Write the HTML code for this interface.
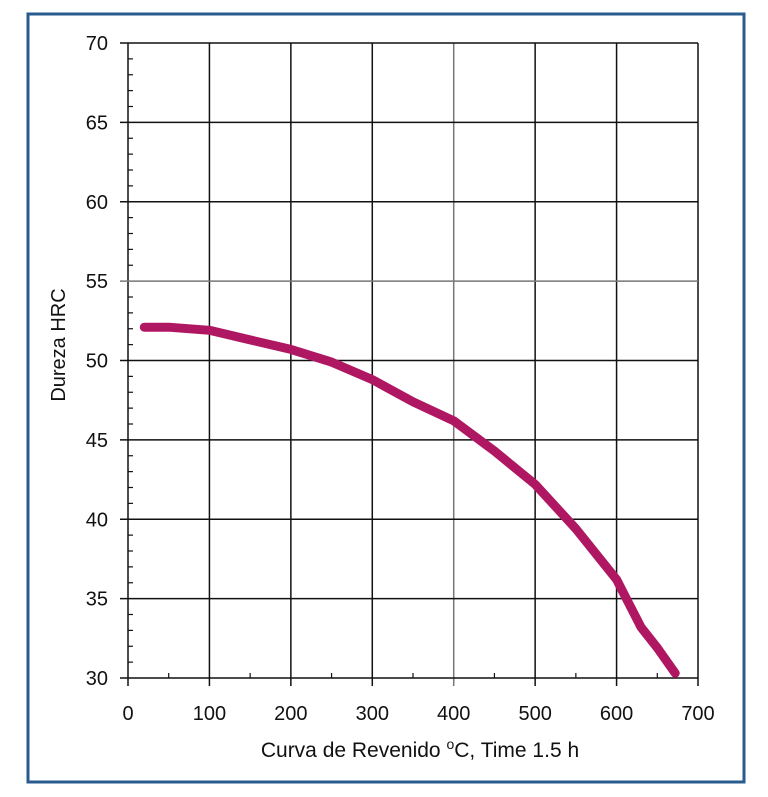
<!DOCTYPE html>
<html><head><meta charset="utf-8"><style>
body{margin:0;background:#fff;}
svg{display:block;font-family:"Liberation Sans",sans-serif;}
</style></head><body>
<svg id="chart" width="768" height="797">
<rect x="28" y="14" width="716" height="768" fill="#fff" stroke="#2a5b8e" stroke-width="3"/>
<g id="grid"></g><g id="ticks"></g><g id="labels"></g>
<path id="curve" fill="none" stroke="#b01762" stroke-width="9" stroke-linecap="round" stroke-linejoin="round"/>
<text x="420" y="757" text-anchor="middle" font-size="21" fill="#111">Curva de Revenido <tspan dy="-8" font-size="14">o</tspan><tspan dy="8">C, Time 1.5 h</tspan></text>
<text transform="translate(65,345) rotate(-90)" text-anchor="middle" font-size="20" fill="#111">Dureza HRC</text>
</svg>
<script>
const temps=[20,50,100,150,200,250,300,350,400,450,500,550,600,630,650,672];
const hrc=[52.1,52.1,51.9,51.3,50.7,49.9,48.8,47.4,46.2,44.3,42.2,39.4,36.2,33.2,31.9,30.3];
const xTicks=[0,100,200,300,400,500,600,700];
const yTicks=[30,35,40,45,50,55,60,65,70];
const L=128,R=698,T=43,B=678;
const sx=v=>L+(v-0)/700*(R-L), sy=v=>B-(v-30)/40*(B-T);
const NS="http://www.w3.org/2000/svg";
function mk(tag,attrs,parent){const e=document.createElementNS(NS,tag);for(const k in attrs)e.setAttribute(k,attrs[k]);document.getElementById(parent).appendChild(e);return e;}
xTicks.forEach(v=>{const l=mk('line',{x1:sx(v),x2:sx(v),y1:T,y2:B+8,stroke:v==400?'#777':'#111','stroke-width':1.5},'grid');


const t=mk('text',{x:sx(v),y:720,'text-anchor':'middle','font-size':20,fill:'#111'},'labels');t.textContent=v;

});
yTicks.forEach(v=>{const l=mk('line',{x1:L-8,x2:R,y1:sy(v),y2:sy(v),stroke:v==55?'#777':'#111','stroke-width':1.5},'grid');


const t=mk('text',{x:108,y:sy(v)+7,'text-anchor':'end','font-size':20,fill:'#111'},'labels');t.textContent=v;

});
for(let v=50;v<700;v+=100){const l=mk('line',{x1:sx(v),x2:sx(v),y1:B,y2:B-5,stroke:'#111','stroke-width':1.2},'ticks');

}
for(let v=31;v<70;v++){if(v%5==0)continue;const l=mk('line',{x1:L,x2:L+5,y1:sy(v),y2:sy(v),stroke:'#111','stroke-width':1.2},'ticks');

}
document.getElementById('curve').setAttribute('d',temps.map((t,i)=>(i?'L':'M')+sx(t).toFixed(1)+' '+sy(hrc[i]).toFixed(1)).join(' '));
</script>
</body></html>
